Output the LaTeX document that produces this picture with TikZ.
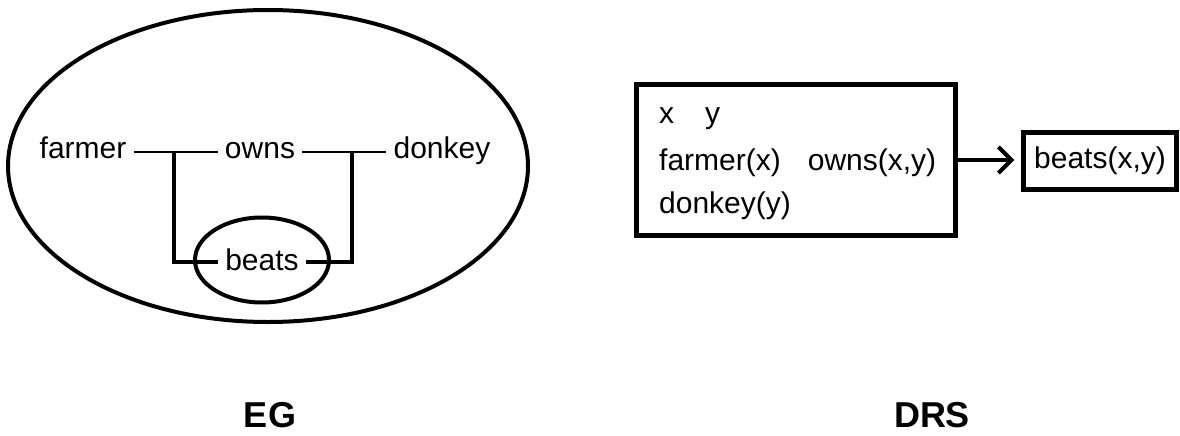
\documentclass[tikz,border=0pt]{standalone}
\usepackage{fontspec}
\setmainfont{Liberation Sans}
\usetikzlibrary{arrows,arrows.meta,shapes.geometric,positioning}

\begin{document}
\begin{tikzpicture}[x=1pt,y=-1pt,>={Straight Barb[length=13pt,width=26pt]},auto,
  word/.style={inner xsep=7pt,inner ysep=0pt,anchor=base,font=\fontsize{30}{36}\selectfont},
  link/.style={line width=2.5pt},
  ligature/.style={line width=4pt},
  cut/.style={draw,ellipse,line width=4pt,inner sep=0pt},
  box/.style={draw,rectangle,line width=4.5pt,inner sep=0pt},
  caption/.style={anchor=base,inner sep=0pt,font=\fontsize{36}{40}\selectfont\bfseries}]

                \useasboundingbox (0,0) rectangle (1180,436);

                % EG
                \node[cut,minimum width=520pt,minimum height=312pt] (sheet) at (268,166) {};
                \node[cut,minimum width=134pt,minimum height=85pt] (neg) at (262,260) {};

                \node[word] (farmer) at (83,158) {farmer};
                \node[word] (owns) at (260,158) {owns};
                \node[word] (donkey) at (442,158) {donkey};
                \node[word] (beats) at (262,270) {beats};

                \coordinate (jl) at (174,152);
                \coordinate (jr) at (352,152);
                \coordinate (bl) at (174,262);
                \coordinate (br) at (352,262);

                \draw[link] (farmer.east |- jl) -- (owns.west |- jl);
                \draw[link] (owns.east |- jr) -- (donkey.west |- jr);
                \draw[ligature] (jl) -- (bl) -- (beats.west |- bl);
                \draw[ligature] (beats.east |- br) -- (br) -- (jr);

                % DRS
                \node[box,minimum width=319pt,minimum height=151pt] (drs) at (796,160) {};
                \node[word,inner xsep=0pt,anchor=base west] (univ) at (659,123) {x\hspace{31pt}y};
                \node[word,inner xsep=0pt,anchor=base west] (cond) at (659,170) {farmer(x)\hspace{27pt}owns(x,y)};
                \node[word,inner xsep=0pt,anchor=base west] (cond2) at (659,213) {donkey(y)};

                \node[box,minimum width=153pt,minimum height=57pt,font=\fontsize{30}{36}\selectfont] (conc) at (1100,161) {beats(x,y)};

                \draw[->,line width=4pt,shorten >=7pt] (drs.east) -- (conc.west |- drs.east);

                \node[caption] (eg) at (270,427) {EG};
                \node[caption] (drscap) at (932,427) {DRS};

            \end{tikzpicture}
\end{document}
